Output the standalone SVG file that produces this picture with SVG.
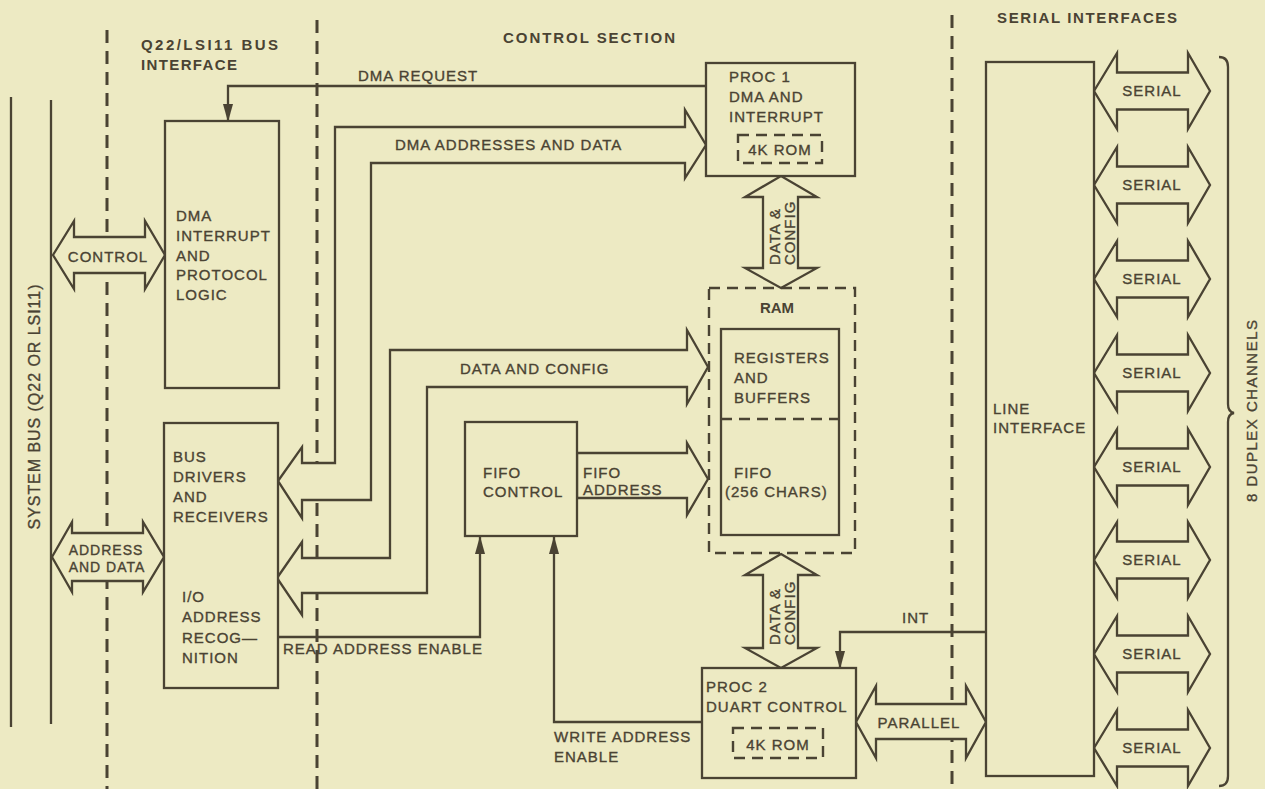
<svg xmlns="http://www.w3.org/2000/svg" width="1265" height="789" viewBox="0 0 1265 789">
<defs>
<style>
.ln{fill:none;stroke:#4a4333;stroke-width:2.3}
.bx{fill:#edeac3;stroke:#4a4333;stroke-width:2.3}
.ar{fill:#edeac3;stroke:#4a4333;stroke-width:2.3;stroke-linejoin:miter}
.dl{fill:none;stroke:#4a4333;stroke-width:3;stroke-dasharray:13 8}
.db{fill:none;stroke:#4a4333;stroke-width:2.4;stroke-dasharray:11 7}
text{font-family:"Liberation Sans",Arial,Helvetica,sans-serif;fill:#4a4333}
.t{font-size:15px;letter-spacing:1px;stroke:#4a4333;stroke-width:0.35}
.h{font-size:15px;font-weight:bold}
.m{text-anchor:middle}
</style>
<marker id="ah" markerUnits="userSpaceOnUse" viewBox="0 -6 18 12" refX="17" refY="0" markerWidth="18" markerHeight="12" orient="auto">
<path d="M0,-5 L18,0 L0,5 Z" fill="#4a4333"/>
</marker>
<path id="ser" d="M0,0 L23,-38 L23,-18.5 L94,-18.5 L94,-38 L116,0 L94,38 L94,18.5 L23,18.5 L23,38 Z"/>
</defs>
<rect width="1265" height="789" fill="#edeac3"/>

<g id="section-dividers">
<line class="dl" x1="107" y1="30" x2="107" y2="789"/>
<line class="dl" x1="317" y1="20" x2="317" y2="789"/>
<line class="dl" x1="952" y1="15" x2="952" y2="789"/>
</g>

<g id="headings">
<text class="h" x="141" y="50" textLength="137" lengthAdjust="spacing">Q22/LSI11 BUS</text>
<text class="h" x="141" y="70" textLength="96" lengthAdjust="spacing">INTERFACE</text>
<text class="h" x="503" y="43" textLength="172" lengthAdjust="spacing">CONTROL SECTION</text>
<text class="h" x="997" y="23" textLength="180" lengthAdjust="spacing">SERIAL INTERFACES</text>
</g>

<g id="system-bus">
<line class="ln" x1="11" y1="97" x2="11" y2="727"/>
<line class="ln" x1="51" y1="100" x2="51" y2="724"/>
<text class="t m" transform="translate(40,407) rotate(-90)" textLength="245" lengthAdjust="spacing" style="font-size:16px;letter-spacing:0">SYSTEM BUS (Q22 OR LSI11)</text>
</g>

<g id="connectors">
<polygon class="ar" points="53,255 74,221 74,237 145,237 145,221 165,255 145,289 145,273 74,273 74,289"/>
<text class="t m" x="108" y="262">CONTROL</text>
<polygon class="ar" points="52,557 72,522 72,533 143,533 143,522 164,557 143,592 143,581 72,581 72,592"/>
<text class="t m" x="106" y="555" style="font-size:14px">ADDRESS</text>
<text class="t m" x="107" y="572" style="font-size:14px">AND DATA</text>

<path class="ln" d="M706,86 H228 V121" marker-end="url(#ah)"/>
<text class="t" x="358" y="81">DMA REQUEST</text>

<polygon class="ar" points="278,481 302,447 302,463 335,463 335,127 685,127 685,110 706,145 685,178 685,163 371,163 371,500 302,500 302,518"/>
<text class="t" x="395" y="150">DMA ADDRESSES AND DATA</text>

<polygon class="ar" points="277,578 302,542 302,558 390,558 390,350 687,350 687,330 708,367 687,404 687,387 427,387 427,593 302,593 302,615"/>
<text class="t" x="460" y="374">DATA AND CONFIG</text>

<polygon class="ar" points="577,453 687,453 687,443 708,479 687,515 687,498 577,498"/>
<text class="t" x="583" y="478">FIFO</text>
<text class="t" x="583" y="495">ADDRESS</text>

<path class="ln" d="M277,637 H480 V537" marker-end="url(#ah)"/>
<text class="t" x="283" y="654">READ ADDRESS ENABLE</text>

<path class="ln" d="M702,722 H554 V537" marker-end="url(#ah)"/>
<text class="t" x="554" y="742">WRITE ADDRESS</text>
<text class="t" x="554" y="762">ENABLE</text>

<polygon class="ar" points="781,176 817,197 798,197 798,268 817,268 781,288 745,268 763,268 763,197 745,197"/>
<text class="t" transform="translate(780,265) rotate(-90)">DATA &amp;</text>
<text class="t" transform="translate(795,265) rotate(-90)">CONFIG</text>

<polygon class="ar" points="781,554 817,575 798,575 798,648 817,648 781,668 745,648 763,648 763,575 745,575"/>
<text class="t" transform="translate(780,645) rotate(-90)">DATA &amp;</text>
<text class="t" transform="translate(795,645) rotate(-90)">CONFIG</text>

<path class="ln" d="M986,632 H840 V668" marker-end="url(#ah)"/>
<text class="t" x="902" y="623">INT</text>

<polygon class="ar" points="856,722 876,686 876,704 966,704 966,686 986,722 966,758 966,739 876,739 876,758"/>
<text class="t m" x="919" y="728">PARALLEL</text>

<use href="#ser" class="ar" transform="translate(1094,91)"/>
<use href="#ser" class="ar" transform="translate(1094,185)"/>
<use href="#ser" class="ar" transform="translate(1094,279)"/>
<use href="#ser" class="ar" transform="translate(1094,373)"/>
<use href="#ser" class="ar" transform="translate(1094,467)"/>
<use href="#ser" class="ar" transform="translate(1094,560)"/>
<use href="#ser" class="ar" transform="translate(1094,654)"/>
<use href="#ser" class="ar" transform="translate(1094,748)"/>
<text class="t m" x="1152" y="96">SERIAL</text>
<text class="t m" x="1152" y="190">SERIAL</text>
<text class="t m" x="1152" y="284">SERIAL</text>
<text class="t m" x="1152" y="378">SERIAL</text>
<text class="t m" x="1152" y="472">SERIAL</text>
<text class="t m" x="1152" y="565">SERIAL</text>
<text class="t m" x="1152" y="659">SERIAL</text>
<text class="t m" x="1152" y="753">SERIAL</text>
</g>

<g id="dma-logic">
<rect class="bx" x="165" y="121" width="114" height="267"/>
<text class="t" x="176" y="221">DMA</text>
<text class="t" x="176" y="241">INTERRUPT</text>
<text class="t" x="176" y="261">AND</text>
<text class="t" x="176" y="280">PROTOCOL</text>
<text class="t" x="176" y="300">LOGIC</text>
</g>

<g id="bus-drivers">
<rect class="bx" x="164" y="423" width="114" height="265"/>
<text class="t" x="173" y="462">BUS</text>
<text class="t" x="173" y="482">DRIVERS</text>
<text class="t" x="173" y="502">AND</text>
<text class="t" x="173" y="522">RECEIVERS</text>
<text class="t" x="182" y="602">I/O</text>
<text class="t" x="182" y="622">ADDRESS</text>
<text class="t" x="182" y="643">RECOG—</text>
<text class="t" x="182" y="663">NITION</text>
</g>

<g id="fifo-control">
<rect class="bx" x="465" y="422" width="112" height="114"/>
<text class="t" x="483" y="478">FIFO</text>
<text class="t" x="483" y="497">CONTROL</text>
</g>

<g id="proc1">
<rect class="bx" x="706" y="63" width="149" height="113"/>
<text class="t" x="729" y="82">PROC 1</text>
<text class="t" x="729" y="102">DMA AND</text>
<text class="t" x="729" y="122">INTERRUPT</text>
<rect class="db" x="738" y="135" width="84" height="28"/>
<text class="t m" x="780" y="155">4K ROM</text>
</g>

<g id="ram">
<rect class="db" x="709" y="288" width="146" height="265"/>
<text class="h m" x="777" y="313">RAM</text>
<rect class="bx" x="721" y="329" width="118" height="206"/>
<line class="db" x1="721" y1="419" x2="839" y2="419"/>
<text class="t" x="734" y="363">REGISTERS</text>
<text class="t" x="734" y="383">AND</text>
<text class="t" x="734" y="403">BUFFERS</text>
<text class="t" x="734" y="478">FIFO</text>
<text class="t" x="725" y="497">(256 CHARS)</text>
</g>

<g id="proc2">
<rect class="bx" x="702" y="668" width="154" height="110"/>
<text class="t" x="706" y="692">PROC 2</text>
<text class="t" x="706" y="712">DUART CONTROL</text>
<rect class="db" x="733" y="728" width="90" height="30"/>
<text class="t m" x="778" y="750">4K ROM</text>
</g>

<g id="line-interface">
<rect class="bx" x="986" y="62" width="108" height="714"/>
<text class="t" x="993" y="414">LINE</text>
<text class="t" x="993" y="433">INTERFACE</text>
</g>

<g id="duplex-brace">
<path class="ln" d="M1219,57 Q1228,57 1228,67 L1228,404 Q1228,412 1234,413 Q1228,414 1228,422 L1228,776 Q1228,786 1219,786"/>
<text class="t m" transform="translate(1257,411) rotate(-90)" textLength="182" lengthAdjust="spacing" style="letter-spacing:0">8 DUPLEX CHANNELS</text>
</g>
</svg>
